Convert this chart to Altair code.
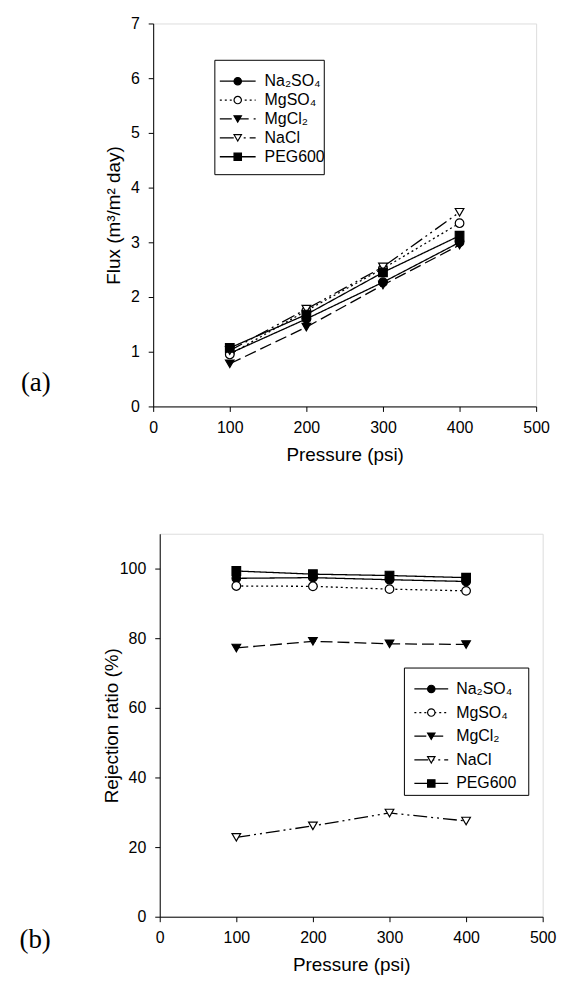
import altair as alt
import pandas as pd

# ---------------- data ----------------
series = ["Na₂SO₄", "MgSO₄", "MgCl₂", "NaCl", "PEG600"]
pressure = [100, 200, 300, 400]

flux_na2so4 = [0.97, 1.60, 2.27, 3.00]
flux_mgso4 = [0.95, 1.75, 2.52, 3.35]
flux_mgcl2 = [0.78, 1.45, 2.22, 2.95]
flux_nacl = [1.02, 1.78, 2.55, 3.55]
flux_peg600 = [1.07, 1.68, 2.45, 3.12]

rej_na2so4 = [97.2, 97.4, 96.8, 96.3]
rej_mgso4 = [95.0, 94.9, 94.1, 93.6]
rej_mgcl2 = [77.2, 79.1, 78.4, 78.2]
rej_nacl = [22.8, 26.1, 29.8, 27.5]
rej_peg600 = [99.3, 98.4, 98.0, 97.4]

x_ticks = [0, 100, 200, 300, 400, 500]
flux_ticks = [0, 1, 2, 3, 4, 5, 6, 7]
rej_ticks = [0, 20, 40, 60, 80, 100]

flux_vals = [flux_na2so4, flux_mgso4, flux_mgcl2, flux_nacl, flux_peg600]
rej_vals = [rej_na2so4, rej_mgso4, rej_mgcl2, rej_nacl, rej_peg600]


def long_df(vals):
    rows = []
    for name, ys in zip(series, vals):
        for p, v in zip(pressure, ys):
            rows.append({"series": name, "pressure": p, "value": v})
    return pd.DataFrame(rows)


flux_df = long_df(flux_vals)
rej_df = long_df(rej_vals)
legend_df = pd.DataFrame({"series": series})

# ---------------- styles ----------------
FONT = "Liberation Sans"
shape_scale = alt.Scale(domain=series,
                        range=["circle", "circle", "triangle-down", "triangle-down", "square"])
fill_scale = alt.Scale(domain=series, range=["black", "white", "black", "white", "black"])
dash_scale = alt.Scale(domain=series,
                       range=[[1, 0], [2, 3], [12, 5], [14, 4, 2, 4, 2, 4], [1, 0]])

W = 385
H = 385


def panel(df, ytitle, ydomain, yticks, title_x, leg, tag, tag_x, tag_y, right_pad):
    xenc = alt.X("pressure:Q",
                 scale=alt.Scale(domain=[0, 500], nice=False, zero=False),
                 axis=alt.Axis(values=x_ticks, title="Pressure (psi)", grid=False,
                               tickSize=5, labelPadding=8, titlePadding=10,
                               labelFontSize=16, titleFontSize=19,
                               labelFont=FONT, titleFont=FONT,
                               labelFlush=False, labelOverlap=False,
                               domainColor="black", tickColor="black",
                               labelColor="black", titleColor="black",
                               titleFontWeight="normal"))
    yenc = alt.Y("value:Q",
                 scale=alt.Scale(domain=ydomain, nice=False, zero=False),
                 axis=alt.Axis(values=yticks, title=ytitle, grid=False,
                               tickSize=5, labelPadding=9,
                               labelFontSize=16, titleFontSize=19,
                               labelFont=FONT, titleFont=FONT,
                               labelFlush=False, labelOverlap=False,
                               titleX=title_x, titleY=H / 2, titleAngle=270,
                               titleAlign="center", titleBaseline="middle",
                               domainColor="black", tickColor="black",
                               labelColor="black", titleColor="black",
                               titleFontWeight="normal"))
    base = alt.Chart(df).encode(x=xenc, y=yenc)
    lines = base.mark_line(color="black", strokeWidth=1.3).encode(
        strokeDash=alt.StrokeDash("series:N", scale=dash_scale, legend=None),
        detail="series:N")
    pts = base.mark_point(filled=True, size=75, stroke="black", strokeWidth=1.2,
                          opacity=1).encode(
        shape=alt.Shape("series:N", scale=shape_scale, legend=None),
        fill=alt.Fill("series:N", scale=fill_scale, legend=None))
    main = alt.layer(lines, pts)

    # hand-built legend (SigmaPlot style box)
    bx0, bx1, by0, by1, ly0, ly1, lx0, lx1, tx = leg
    one = pd.DataFrame({"k": [0]})
    box = alt.Chart(one).mark_rect(
        fill="white", stroke="black", strokeWidth=1).encode(
        x=alt.value(bx0), x2=alt.value(bx1), y=alt.value(by0), y2=alt.value(by1))
    leg_y = alt.Y("series:N", scale=alt.Scale(type="point", domain=series,
                                              range=[ly0, ly1], padding=0),
                  axis=None)
    leg_base = alt.Chart(legend_df).encode(y=leg_y)
    leg_lines = leg_base.mark_rule(color="black", strokeWidth=1.3).encode(
        x=alt.value(lx0), x2=alt.value(lx1),
        strokeDash=alt.StrokeDash("series:N", scale=dash_scale, legend=None))
    leg_pts = leg_base.mark_point(filled=True, size=55, stroke="black", strokeWidth=1.2,
                                  opacity=1).encode(
        x=alt.value((lx0 + lx1) / 2),
        shape=alt.Shape("series:N", scale=shape_scale, legend=None),
        fill=alt.Fill("series:N", scale=fill_scale, legend=None))
    leg_txt = leg_base.mark_text(align="left", baseline="middle", font=FONT,
                                 fontSize=16, color="black").encode(
        x=alt.value(tx), text="series:N")
    legend = alt.layer(leg_lines, leg_pts, leg_txt)
    tag_txt = alt.Chart(pd.DataFrame({"t": [tag]})).mark_text(
        align="left", baseline="middle", font="Liberation Serif", fontSize=27,
        color="black").encode(x=alt.value(tag_x), y=alt.value(tag_y), text="t:N")
    # white spacer to the right (layout only, invisible on white page)
    spacer = alt.Chart(one).mark_rule(color="white", strokeWidth=1).encode(
        x=alt.value(W + 2), x2=alt.value(W + right_pad), y=alt.value(H / 2))

    return alt.layer(main, box, legend, tag_txt, spacer).resolve_scale(
        y="independent").properties(width=W, height=H)


top = panel(flux_df, "Flux (m³/m² day)", [0, 7], flux_ticks, -40,
            (62, 172, 37, 152, 58, 134, 67, 103, 112), "(a)", -133, 361, 26)
bottom = panel(rej_df, "Rejection ratio (%)", [0, 110], rej_ticks, -48,
               (246, 371, 135, 263, 156, 251, 256, 290, 298), "(b)", -141, 408, 4)

chart = alt.vconcat(top, bottom, spacing=68, center=True).properties(
    padding={"left": 19, "top": 12, "right": 0, "bottom": 0}
).configure_view(stroke="black", strokeWidth=1).configure(background="white")

chart.save("out.html", embed_options={"renderer": "svg", "actions": False})
